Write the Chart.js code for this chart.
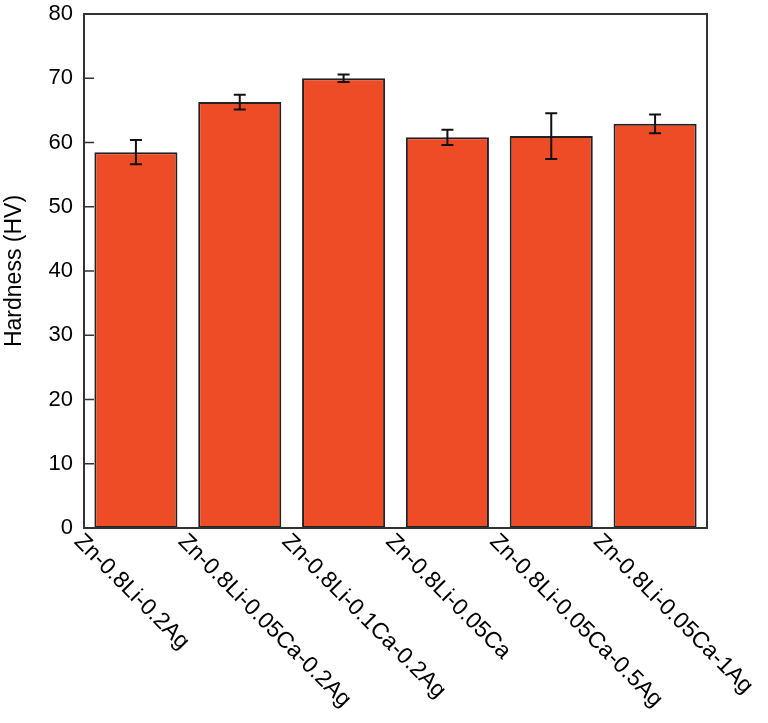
<!DOCTYPE html>
<html>
<head>
<meta charset="utf-8">
<script src="https://cdn.jsdelivr.net/npm/chart.js@4"></script>
<style>
html,body{margin:0;padding:0;background:#fff;}
#wrap{width:768px;height:723px;position:relative;}
</style>
</head>
<body>
<div id="wrap"><canvas id="c" width="768" height="723"></canvas></div>
<script>
const categories = ["Zn-0.8Li-0.2Ag","Zn-0.8Li-0.05Ca-0.2Ag","Zn-0.8Li-0.1Ca-0.2Ag","Zn-0.8Li-0.05Ca","Zn-0.8Li-0.05Ca-0.5Ag","Zn-0.8Li-0.05Ca-1Ag"];
const hardness = [58.5, 66.3, 70.0, 60.8, 61.0, 62.9];
const hardnessErr = [1.9, 1.15, 0.6, 1.2, 3.55, 1.45];
const yTicks = [0, 10, 20, 30, 40, 50, 60, 70, 80];

const FONT = "'Liberation Sans', Arial, Helvetica, sans-serif";

const errorBars = {
  id: 'errorBars',
  afterDatasetsDraw(chart) {
    const ctx = chart.ctx;
    const meta = chart.getDatasetMeta(0);
    const ys = chart.scales.y;
    ctx.save();
    ctx.strokeStyle = '#111';
    ctx.lineWidth = 2;
    meta.data.forEach((bar, i) => {
      const x = bar.x;
      const top = ys.getPixelForValue(hardness[i] + hardnessErr[i]);
      const bot = ys.getPixelForValue(hardness[i] - hardnessErr[i]);
      const cap = 6;
      ctx.beginPath();
      ctx.moveTo(x, top); ctx.lineTo(x, bot);
      ctx.moveTo(x - cap, top); ctx.lineTo(x + cap, top);
      ctx.moveTo(x - cap, bot); ctx.lineTo(x + cap, bot);
      ctx.stroke();
    });
    ctx.restore();
  }
};

const frameAndLabels = {
  id: 'frameAndLabels',
  afterDraw(chart) {
    const ctx = chart.ctx;
    const a = chart.chartArea;
    const ys = chart.scales.y;
    const xs = chart.scales.x;
    ctx.save();
    ctx.strokeStyle = '#333';
    ctx.lineWidth = 2;
    ctx.strokeRect(a.left, a.top, a.right - a.left, a.bottom - a.top);
    ctx.lineWidth = 1.5;
    yTicks.forEach(v => {
      const y = ys.getPixelForValue(v);
      ctx.beginPath();
      ctx.moveTo(a.left, y); ctx.lineTo(a.left + 10, y);
      ctx.stroke();
    });
    ctx.fillStyle = '#000';
    ctx.font = '23px ' + FONT;
    ctx.textAlign = 'left';
    ctx.textBaseline = 'top';
    categories.forEach((lab, i) => {
      const x = xs.getPixelForValue(i);
      ctx.save();
      ctx.translate(x - 50, a.bottom + 2);
      ctx.rotate(Math.PI / 4);
      ctx.fillText(lab, 0, 0);
      ctx.restore();
    });
    ctx.restore();
  }
};

new Chart(document.getElementById('c'), {
  type: 'bar',
  data: {
    labels: categories,
    datasets: [{
      data: hardness,
      backgroundColor: '#EE4C26',
      borderColor: '#222',
      borderWidth: 2,
      borderSkipped: false,
      barPercentage: 0.8,
      categoryPercentage: 1.0
    }]
  },
  options: {
    responsive: false,
    animation: false,
    devicePixelRatio: 1,
    layout: { padding: { top: 14, right: 61, left: 0, bottom: 0 } },
    plugins: { legend: { display: false }, tooltip: { enabled: false } },
    scales: {
      x: {
        grid: { display: false, drawTicks: false },
        border: { display: false },
        ticks: { display: false },
        afterFit(s) { s.height = 195; s.paddingLeft = 0; s.paddingRight = 0; }
      },
      y: {
        min: 0, max: 80,
        afterBuildTicks(s) { s.ticks = yTicks.map(v => ({ value: v })); },
        grid: { display: false, drawTicks: false },
        border: { display: false },
        ticks: { color: '#000', font: { size: 22, family: FONT }, padding: 11 },
        title: { display: true, text: 'Hardness (HV)', color: '#000', font: { size: 23, family: FONT }, padding: { top: 1, bottom: 4 } },
        afterFit(s) { s.width = 84; s.paddingTop = 0; s.paddingBottom = 0; }
      }
    }
  },
  plugins: [errorBars, frameAndLabels]
});
</script>
</body>
</html>
